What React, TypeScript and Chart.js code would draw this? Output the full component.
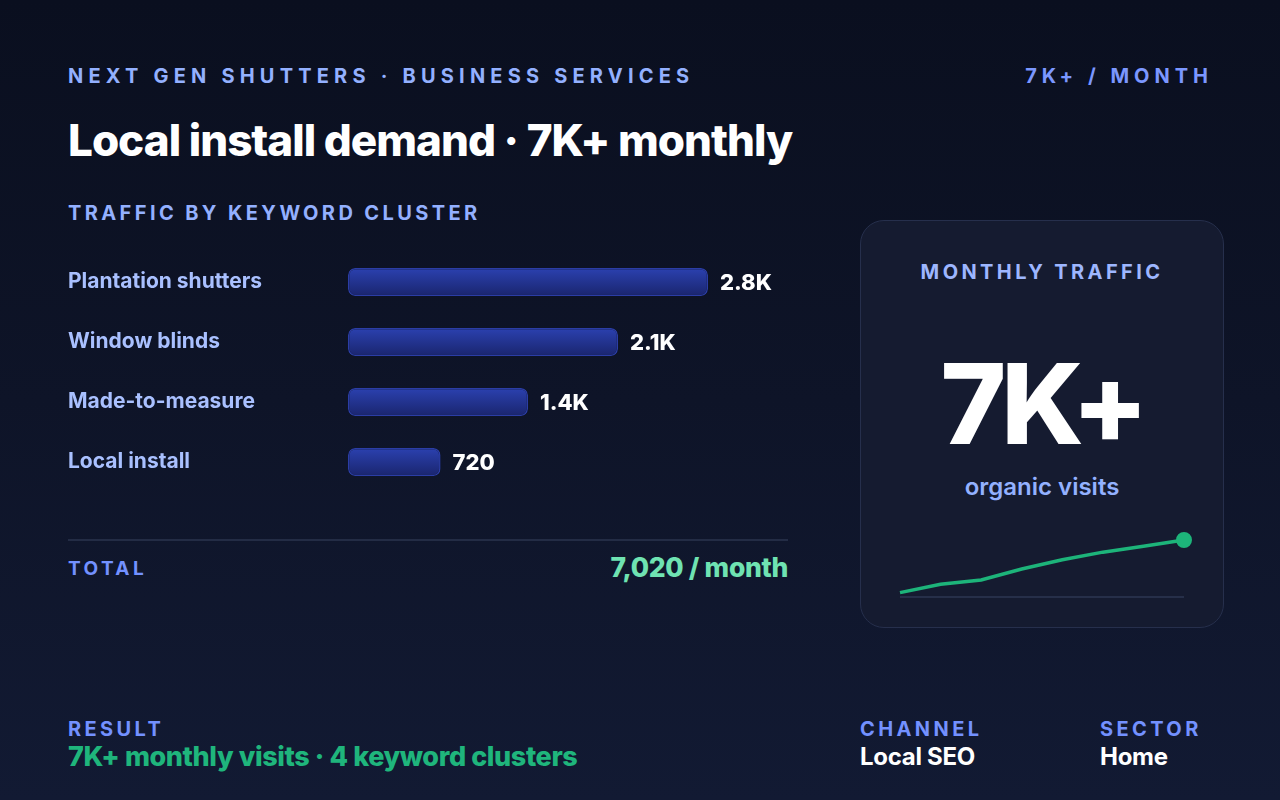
import React, { useEffect, useRef } from "react";
import { Chart, registerables } from "chart.js";

Chart.register(...registerables);

// Keyword clusters and their monthly visits
const clusters = ["Plantation shutters", "Window blinds", "Made-to-measure", "Local install"];
const clusterVisits = [2800, 2100, 1400, 720];

// Monthly organic visits trend (sparkline)
const trendMonths = ["M1", "M2", "M3", "M4", "M5", "M6", "M7", "M8"];
const trendVisits = [3900, 4400, 4650, 5300, 5850, 6300, 6650, 7020];

const FONT = "Inter, 'Noto Sans', sans-serif";
const totalVisits = clusterVisits.reduce((a, b) => a + b, 0);

const fmtShort = (v: number) => (v >= 1000 ? (v / 1000).toFixed(1) + "K" : String(v));

const valueLabels = {
  id: "valueLabels",
  afterDatasetsDraw(chart: any) {
    const ctx = chart.ctx;
    const meta = chart.getDatasetMeta(0);
    ctx.save();
    ctx.font = `800 22px ${FONT}`;
    ctx.fillStyle = "#ffffff";
    ctx.textBaseline = "middle";
    ctx.textAlign = "left";
    meta.data.forEach((el: any, i: number) => {
      ctx.fillText(fmtShort(clusterVisits[i]), el.x + 12, el.y + 1);
    });
    ctx.restore();
  },
};

const sparkBaseline = {
  id: "sparkBaseline",
  beforeDatasetsDraw(chart: any) {
    const { ctx, chartArea } = chart;
    ctx.save();
    ctx.strokeStyle = "#262f49";
    ctx.lineWidth = 2;
    ctx.beginPath();
    ctx.moveTo(chartArea.left, chartArea.bottom + 1);
    ctx.lineTo(chartArea.right, chartArea.bottom + 1);
    ctx.stroke();
    ctx.restore();
  },
};

function BarChart() {
  const ref = useRef<HTMLCanvasElement>(null);
  useEffect(() => {
    const maxV = Math.max(...clusterVisits);
    const chart = new Chart(ref.current!, {
      type: "bar",
      data: {
        labels: clusters,
        datasets: [
          {
            data: clusterVisits,
            backgroundColor: (c: any) => {
              const chart = c.chart;
              if (!chart.chartArea || !chart.scales.y) return "#24359a";
              const cy = chart.scales.y.getPixelForValue(c.dataIndex);
              const g = chart.ctx.createLinearGradient(0, cy - 14, 0, cy + 14);
              g.addColorStop(0, "#2b41b0");
              g.addColorStop(1, "#1a256e");
              return g;
            },
            borderColor: "#2b3da6",
            borderWidth: 1.5,
            borderRadius: 7,
            borderSkipped: false,
            barPercentage: 1,
            categoryPercentage: 28 / 60,
          },
        ],
      },
      options: {
        indexAxis: "y",
        responsive: false,
        maintainAspectRatio: false,
        animation: false,
        layout: { padding: 0 },
        plugins: { legend: { display: false }, tooltip: { enabled: false } },
        scales: {
          x: { display: false, min: 0, max: (maxV * 440) / 360 },
          y: {
            grid: { display: false },
            border: { display: false },
            ticks: {
              color: "#a9c0ff",
              font: { family: FONT, size: 21, weight: "700" },
              crossAlign: "far",
              padding: 0,
            },
            afterFit: (s: any) => {
              s.width = 280;
              s.paddingTop = 0;
              s.paddingBottom = 0;
            },
          },
        },
      },
      plugins: [valueLabels],
    } as any);
    return () => chart.destroy();
  }, []);
  return (
    <canvas
      ref={ref}
      width={720}
      height={240}
      style={{ position: "absolute", left: 68, top: 252, width: 720, height: 240 }}
    />
  );
}

function Sparkline() {
  const ref = useRef<HTMLCanvasElement>(null);
  useEffect(() => {
    const chart = new Chart(ref.current!, {
      type: "line",
      data: {
        labels: trendMonths,
        datasets: [
          {
            data: trendVisits,
            borderColor: "#1db47a",
            borderWidth: 3.5,
            tension: 0,
            clip: false,
            pointRadius: trendVisits.map((_, i) => (i === trendVisits.length - 1 ? 7 : 0)),
            pointBackgroundColor: "#1db47a",
            pointBorderColor: "#1db47a",
            pointBorderWidth: 2,
          },
        ],
      },
      options: {
        responsive: false,
        maintainAspectRatio: false,
        animation: false,
        layout: { padding: { left: 10, right: 10, top: 20, bottom: 12 } },
        plugins: { legend: { display: false }, tooltip: { enabled: false } },
        scales: {
          x: { display: false },
          y: { display: false, min: Math.min(...trendVisits) - 200, max: Math.max(...trendVisits) },
        },
      },
      plugins: [sparkBaseline],
    } as any);
    return () => chart.destroy();
  }, []);
  return (
    <canvas
      ref={ref}
      width={304}
      height={88}
      style={{ position: "absolute", left: 890, top: 520, width: 304, height: 88 }}
    />
  );
}

const eyebrow: React.CSSProperties = {
  position: "absolute",
  fontFamily: FONT,
  fontWeight: 700,
  fontSize: 20,
  letterSpacing: "3.4px",
  lineHeight: "24px",
  whiteSpace: "nowrap",
  margin: 0,
};

export default function App() {
  useEffect(() => {
    document.body.style.margin = "0";
    document.body.style.background = "#0b1020";
  }, []);
  return (
    <div
      style={{
        position: "relative",
        width: 1280,
        height: 800,
        overflow: "hidden",
        background: "linear-gradient(180deg, #0a0f1f 0%, #0e1428 50%, #121a33 100%)",
        fontFamily: FONT,
      }}
    >
      <div style={{ ...eyebrow, left: 68, top: 64, color: "#93b0ff", letterSpacing: "5.2px" }}>
        NEXT GEN SHUTTERS · BUSINESS SERVICES
      </div>
      <div style={{ ...eyebrow, right: 67, top: 64, color: "#7b97ff", letterSpacing: "5px" }}>
        7K+ / MONTH
      </div>

      <div
        style={{
          position: "absolute",
          left: 68,
          top: 112,
          color: "#ffffff",
          fontFamily: FONT,
          fontWeight: 800,
          fontSize: 44,
          letterSpacing: "-1px",
          lineHeight: "56px",
          whiteSpace: "nowrap",
        }}
      >
        Local install demand · 7K+ monthly
      </div>

      <div style={{ ...eyebrow, left: 68, top: 201, color: "#93b0ff" }}>TRAFFIC BY KEYWORD CLUSTER</div>

      <BarChart />

      <div style={{ position: "absolute", left: 68, top: 539, width: 720, height: 2, background: "#232c45" }} />
      <div style={{ ...eyebrow, left: 68, top: 557, color: "#7391ff", fontSize: 19 }}>TOTAL</div>
      <div
        style={{
          position: "absolute",
          right: 492,
          top: 551,
          color: "#6fe3b2",
          fontWeight: 800,
          fontSize: 26.5,
          letterSpacing: "-0.3px",
          lineHeight: "32px",
          whiteSpace: "nowrap",
        }}
      >
        {totalVisits.toLocaleString("en-US")} / month
      </div>

      <div
        style={{
          position: "absolute",
          left: 860,
          top: 220,
          width: 364,
          height: 408,
          boxSizing: "border-box",
          borderRadius: 24,
          border: "1.5px solid #262f4c",
          background: "#151b30",
        }}
      />
      <div
        style={{
          ...eyebrow,
          left: 860,
          width: 364,
          textAlign: "center",
          top: 260,
          color: "#9db6ff",
        }}
      >
        MONTHLY TRAFFIC
      </div>
      <div
        style={{
          position: "absolute",
          left: 860,
          width: 364,
          textAlign: "center",
          top: 338,
          color: "#ffffff",
          fontWeight: 800,
          fontSize: 112,
          letterSpacing: "-5px",
          lineHeight: "130px",
        }}
      >
        7K+
      </div>
      <div
        style={{
          position: "absolute",
          left: 860,
          width: 364,
          textAlign: "center",
          top: 472,
          color: "#93b1ff",
          fontWeight: 600,
          fontSize: 24,
          lineHeight: "30px",
        }}
      >
        organic visits
      </div>

      <Sparkline />

      <div style={{ ...eyebrow, left: 68, top: 717, color: "#7391ff" }}>RESULT</div>
      <div
        style={{
          position: "absolute",
          left: 68,
          top: 741,
          color: "#1fb57c",
          fontWeight: 800,
          fontSize: 27,
          letterSpacing: "-0.4px",
          lineHeight: "32px",
          whiteSpace: "nowrap",
        }}
      >
        7K+ monthly visits · 4 keyword clusters
      </div>

      <div style={{ ...eyebrow, left: 860, top: 717, color: "#7391ff" }}>CHANNEL</div>
      <div
        style={{
          position: "absolute",
          left: 860,
          top: 741,
          color: "#ffffff",
          fontWeight: 700,
          fontSize: 24,
          letterSpacing: "-0.3px",
          lineHeight: "32px",
          whiteSpace: "nowrap",
        }}
      >
        Local SEO
      </div>

      <div style={{ ...eyebrow, left: 1100, top: 717, color: "#7391ff" }}>SECTOR</div>
      <div
        style={{
          position: "absolute",
          left: 1100,
          top: 741,
          color: "#ffffff",
          fontWeight: 700,
          fontSize: 24,
          letterSpacing: "-0.3px",
          lineHeight: "32px",
          whiteSpace: "nowrap",
        }}
      >
        Home
      </div>
    </div>
  );
}
